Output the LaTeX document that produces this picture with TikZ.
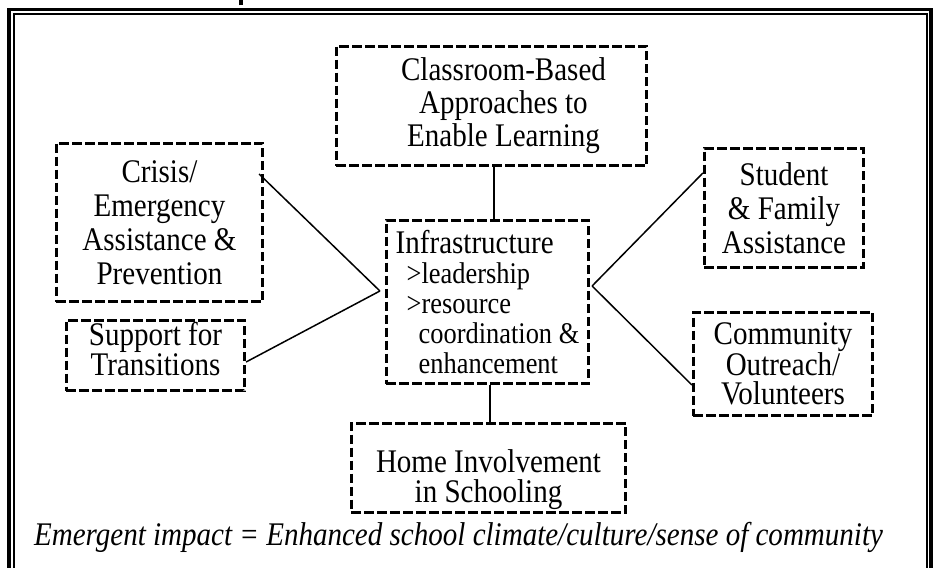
\documentclass[tikz,border=0pt]{standalone}
\usepackage{fontspec}
\setmainfont{Liberation Serif}[FakeStretch=0.88]
\usepackage{tikz}

\tikzset{
    dbox/.style={draw, line width=2.7pt, dash pattern=on 9.5pt off 3.5pt, align=center, inner sep=0pt, font=\fontsize{33pt}{#1}\selectfont},
    link/.style={line width=1.5pt},
    stem/.style={line width=2.5pt}
}
\newcommand{\subline}[2]{{\fontsize{30pt}{29pt}\selectfont\hspace*{#1}#2}}

\begin{document}
\begin{tikzpicture}[x=1pt, y=1pt]
    \useasboundingbox (0,0) rectangle (933,567);
    \draw[line width=3.5pt] (9,-5) -- (9,557.5) -- (931,557.5) -- (931,-5);
    \draw[line width=2pt] (14,-5) -- (14,553) -- (926.6,553) -- (926.6,-5);
    \draw[line width=3.5pt] (241,561.7) -- (241,570);

    \node[dbox=33pt, minimum width=310.5pt, minimum height=119.5pt] (classroom) at (491.5,461) {\hspace*{24pt}Classroom-Based\\\hspace*{24pt}Approaches to\\\hspace*{24pt}Enable Learning};
    \node[dbox=34pt, minimum width=206.5pt, minimum height=158.5pt] (crisis) at (159.5,344.5) {Crisis/\\Emergency\\Assistance \&\\Prevention};
    \node[dbox=28pt, minimum width=178.5pt, minimum height=70.5pt] (support) at (155.5,211.5) {Support for\\Transitions\rule[-14pt]{0pt}{14pt}};
    \node[dbox=30pt, minimum width=202.5pt, minimum height=163.5pt, align=left] (infra) at (487.5,265) {Infrastructure\\\subline{11pt}{>leadership}\\\subline{11pt}{>resource}\\\subline{23pt}{coordination \&}\\\subline{23pt}{enhancement}};
    \node[dbox=34pt, minimum width=159.5pt, minimum height=119.5pt] (student) at (784,359) {Student\\\& Family\\Assistance};
    \node[dbox=29.5pt, minimum width=179.5pt, minimum height=103.5pt] (community) at (783,203) {Community\\Outreach/\\Volunteers};
    \node[dbox=30pt, minimum width=274.5pt, minimum height=89.5pt] (home) at (488.5,99) {\rule{0pt}{46pt}Home Involvement\\in Schooling};
    \node[anchor=base, font=\fontsize{33pt}{34pt}\selectfont\itshape] (impact) at (458.5,22) {Emergent impact = Enhanced school climate/culture/sense of community};

    \coordinate (westhub) at ([shift={(-5,11)}]infra.west);
    \coordinate (easthub) at ([shift={(2,16)}]infra.east);

    \draw[link] ([shift={(-5,48.5)}]crisis.east) -- (westhub);
    \draw[link] ([yshift=-6.5pt]support.east) -- (westhub);
    \draw[link] ([yshift=35pt]student.west) -- (easthub);
    \draw[link] ([yshift=-21pt]community.west) -- (easthub);
    \draw[stem] ([xshift=6.5pt]infra.north) -- ([xshift=6.5pt]infra.north |- classroom.south);
    \draw[stem] ([xshift=2.5pt]infra.south) -- ([xshift=2.5pt]infra.south |- home.north);
\end{tikzpicture}
\end{document}
